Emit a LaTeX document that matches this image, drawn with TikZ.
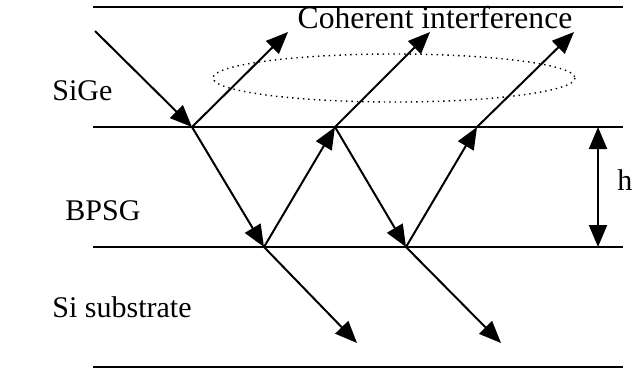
\documentclass[tikz,border=0pt]{standalone}
\usepackage{fontspec}
\setmainfont{Liberation Serif}
\usetikzlibrary{arrows.meta}
\tikzset{
  layer/.style={line width=0.9pt},
  ray/.style={line width=1pt, -{Triangle[length=11pt,width=9pt]}},
  lbl/.style={anchor=base west, inner sep=0pt, font=\fontsize{15}{18}\selectfont}
}
\begin{document}
\begin{tikzpicture}[x=0.5pt, y=-0.5pt]
\useasboundingbox (0,0) rectangle (640,371);
% Layer boundaries
\draw[layer] (93,7) -- (623,7);
\draw[layer] (93,127) -- (623,127);
\draw[layer] (93,247) -- (623,247);
\draw[layer] (93,367) -- (623,367);

% Layer labels
\node[lbl] (sige) at (52,100) {SiGe};
\node[lbl] (bpsg) at (65,220) {BPSG};
\node[lbl] (subs) at (52,317) {Si substrate};

% Ray points
\coordinate (src) at (95,31);
\coordinate (p1) at (192,127);
\coordinate (p2) at (335,127);
\coordinate (p3) at (477,127);
\coordinate (q1) at (264,247);
\coordinate (q2) at (406,247);
\coordinate (r1) at (288,32);
\coordinate (r2) at (430,32);
\coordinate (r3) at (574,32);
\coordinate (t1) at (357,343);
\coordinate (t2) at (501,343);

% Incident and bouncing rays
\draw[ray] (src) -- (p1);
\draw[ray] (p1) -- (q1);
\draw[ray] (q1) -- (p2);
\draw[ray] (p2) -- (q2);
\draw[ray] (q2) -- (p3);

% Reflected rays
\draw[ray] (p1) -- (r1);
\draw[ray] (p2) -- (r2);
\draw[ray] (p3) -- (r3);

% Transmitted rays
\draw[ray] (q1) -- (t1);
\draw[ray] (q2) -- (t2);

% Interference region
\draw[dotted, line width=0.7pt] (394,78) ellipse [x radius=181, y radius=24];
\node[anchor=base, inner sep=0pt, font=\fontsize{15.8}{18}\selectfont] (coh) at (435,28) {Coherent interference};

% Thickness
\coordinate (htop) at (598,127);
\coordinate (hbot) at (598,247);
\draw[ray, {Triangle[length=11pt,width=9pt]}-{Triangle[length=11pt,width=9pt]}] (htop) -- (hbot);
\node[lbl] (h) at (617,190) {h};
\end{tikzpicture}
\end{document}
